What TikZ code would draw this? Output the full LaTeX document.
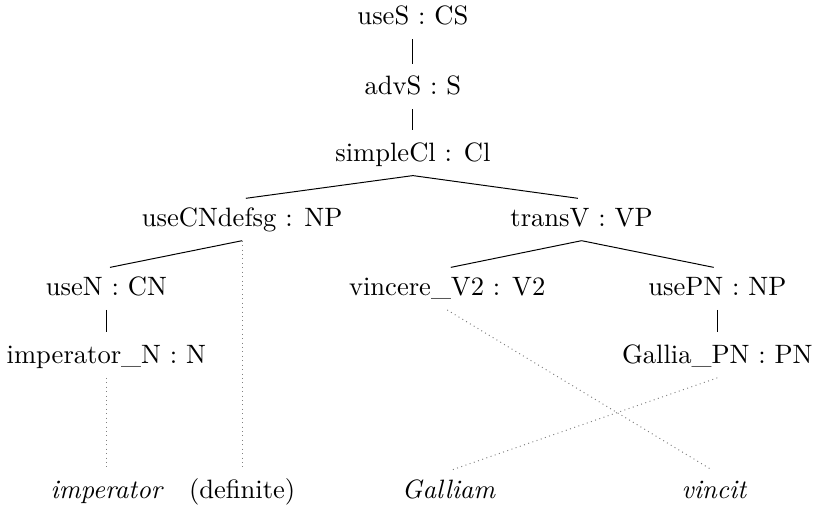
\documentclass[tikz,border=0pt]{standalone}
\usepackage{amsmath}
\usepackage{tikz}

\begin{document}
\begin{tikzpicture}[
    every node/.style={font=\fontsize{10.8pt}{13pt}\selectfont},
    fun/.style={inner sep=4pt, text height=1.6ex, text depth=.4ex},
    word/.style={fun, font=\fontsize{10.8pt}{13pt}\selectfont\itshape},
    edge/.style={shorten >=1.5pt},
    lin/.style={gray, dash pattern=on 0.4pt off 1.4pt, shorten >=1.5pt}]
      \useasboundingbox (0,0) rectangle (11.66,-7.27);
      \draw
      (5.9,-0.26)   node[fun](uses){useS : CS}
      (5.9,-1.26)   node[fun](advs){advS : S}
      (5.9,-2.21)   node[fun](simplecl){simpleCl : Cl}
      (3.46,-3.14)  node[fun](usecn){useCNdefsg : NP}
      (8.31,-3.14)  node[fun](transv){transV : VP}
      (1.52,-4.13)  node[fun](usen){useN : CN}
      (6.39,-4.13)  node[fun](vincere){vincere\_V2 : V2}
      (10.25,-4.13) node[fun](usepn){usePN : NP}
      (1.52,-5.1)   node[fun](imperatorn){imperator\_N : N}
      (10.25,-5.1)  node[fun](gallia){Gallia\_PN : PN};
      \draw
      (1.52,-7.03)  node[word](imperator){imperator}
      (3.46,-7.03)  node[fun](definite){(definite)}
      (6.41,-7.03)  node[word](galliam){Galliam}
      (10.2,-7.03)  node[word](vincit){vincit};
      % abstract tree
      \draw[edge] (uses.south)     -- (advs.north);
      \draw[edge] (advs.south)     -- (simplecl.north);
      \draw[edge] (simplecl.south) -- (usecn.north);
      \draw[edge] (simplecl.south) -- (transv.north);
      \draw[edge] (usecn.south)    -- (usen.north);
      \draw[edge] (usen.south)     -- (imperatorn.north);
      \draw[edge] (transv.south)   -- (vincere.north);
      \draw[edge] (transv.south)   -- (usepn.north);
      \draw[edge] (usepn.south)    -- (gallia.north);
      % linearization
      \draw[lin] (imperatorn.south) -- (imperator.north);
      \draw[lin] (usecn.south)      -- (definite.north);
      \draw[lin] (vincere.south)    -- (vincit.north);
      \draw[lin] (gallia.south)     -- (galliam.north);
    \end{tikzpicture}
\end{document}
